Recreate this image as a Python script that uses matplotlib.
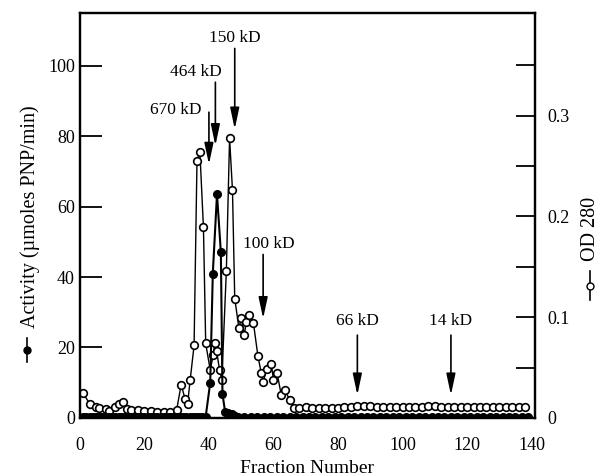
import matplotlib.pyplot as plt
from matplotlib.lines import Line2D

plt.rcParams['font.family'] = ['Liberation Serif', 'DejaVu Serif']

# Activity (filled circles, left axis)
act_frac = list(range(1, 40)) + [40.4, 41.2, 42.5, 43.7, 44.2, 45, 46, 47, 48] + list(range(49, 141, 2))
act_vals = [0.4] * 39 + [10, 41, 63.5, 47, 6.8, 1.8, 1.5, 1.0, 0.6] + [0.4] * len(range(49, 141, 2))

# OD 280 (open circles, right axis)
od_frac = [1, 3, 5, 6, 8, 9, 11, 12, 13.5, 14.5, 16, 18, 20, 22, 24, 26, 28, 30,
           31.4, 32.6, 33.4, 34.2, 35.4, 36.3, 37.2, 38.3, 39, 40.4, 41.3, 41.8,
           42.4, 43.3, 44, 45.4, 46.4, 47.3, 48, 49.3, 50, 51, 51.5, 52.4, 53.8,
           55.2, 56.2, 56.8, 58, 59.3, 60, 61.1, 62.4, 63.5, 65, 66.5,
           68, 70, 72, 74, 76, 78, 80, 82, 84, 86, 88, 90, 92, 94, 96, 98, 100,
           102, 104, 106, 108, 110, 112, 114, 116, 118, 120, 122, 124, 126, 128,
           130, 132, 134, 136, 138]
od_vals = [0.025, 0.014, 0.011, 0.010, 0.009, 0.007, 0.011, 0.014, 0.0155, 0.0086,
           0.008, 0.008, 0.007, 0.007, 0.006, 0.006, 0.006, 0.008,
           0.033, 0.019, 0.014, 0.038, 0.072, 0.255, 0.264, 0.189, 0.074, 0.0475,
           0.062, 0.074, 0.066, 0.0475, 0.038, 0.146, 0.2775, 0.226, 0.1185, 0.089,
           0.099, 0.082, 0.095, 0.102, 0.094, 0.061, 0.045, 0.036, 0.049, 0.054,
           0.038, 0.045, 0.023, 0.028, 0.018, 0.0096,
           0.010, 0.011, 0.010, 0.010, 0.010, 0.010, 0.010, 0.011, 0.011, 0.012,
           0.012, 0.012, 0.011, 0.011, 0.011, 0.011, 0.011, 0.011, 0.011, 0.011,
           0.012, 0.012, 0.011, 0.011, 0.011, 0.011, 0.011, 0.011, 0.011, 0.011,
           0.011, 0.011, 0.011, 0.011, 0.011, 0.011]

# Molecular weight markers: label, fraction, label position, arrow start, arrow tip
markers = [
    ('670 kD', 40, (29.7, 87.3), 86.8, 72),
    ('464 kD', 42, (36, 98.1), 95.3, 77.3),
    ('150 kD', 48, (48, 107.8), 104.9, 82),
    ('100 kD', 56.8, (58.5, 49.5), 46.4, 28.2),
    ('66 kD', 86, (86, 27.5), 23.5, 6.5),
    ('14 kD', 115, (115, 27.5), 23.5, 6.5),
]

fig = plt.figure(figsize=(6.05, 4.76), dpi=100)
ax = fig.add_axes([0.132, 0.122, 0.752, 0.851])
ax2 = ax.twinx()

ax2.plot(od_frac, od_vals, color='black', lw=1, marker='o', ms=5.5,
         mfc='white', mec='black', mew=1.2)
ax.plot(act_frac, act_vals, color='black', lw=1.5, marker='o', ms=5.5,
        mfc='black', mec='black')

ax.set_zorder(ax2.get_zorder() + 1)
ax.patch.set_visible(False)

ax.set_xlim(0.5, 141)
ax.set_ylim(0, 115)
ax2.set_ylim(0, 0.402)

ax.set_xticks(range(0, 141, 20))
ax.set_yticks(range(0, 101, 20))
ax2.set_yticks([0, 0.05, 0.1, 0.15, 0.2, 0.25, 0.3, 0.35])
ax2.set_yticklabels(['0', '', '0.1', '', '0.2', '', '0.3', ''])

ax.tick_params(axis='y', direction='in', length=16, width=1.3, labelsize=13)
ax.tick_params(axis='x', length=0, labelsize=13, pad=14)
ax2.tick_params(axis='y', direction='in', length=14, width=1.3, labelsize=13, pad=9)
for a in (ax, ax2):
    for s in a.spines.values():
        s.set_linewidth(1.6)

ax.set_xlabel('Fraction Number', fontsize=14, labelpad=4)
fig.text(0.05, 0.545, 'Activity (µmoles PNP/min)', fontsize=14.5,
         rotation=90, ha='center', va='center')
fig.text(0.976, 0.52, 'OD 280', fontsize=14.5, rotation=90,
         ha='center', va='center')

for label, x, (tx, ty), y0, y1 in markers:
    ax.text(tx, ty, label, fontsize=12.5, ha='center', va='center')
    ax.annotate('', xy=(x, y1), xytext=(x, y0),
                arrowprops=dict(arrowstyle='-|>,head_width=0.17,head_length=0.8',
                                color='black', lw=1.2, mutation_scale=16,
                                shrinkA=0, shrinkB=0))

# little series keys beside the axis labels
fig.add_artist(Line2D([0.045, 0.045], [0.24, 0.29], color='black', lw=1.2,
                      transform=fig.transFigure))
fig.add_artist(Line2D([0.045], [0.265], color='black', marker='o', ms=5,
                      transform=fig.transFigure))
fig.add_artist(Line2D([0.976, 0.976], [0.37, 0.43], color='black', lw=1.2,
                      transform=fig.transFigure))
fig.add_artist(Line2D([0.976], [0.40], color='black', marker='o', ms=5,
                      mfc='white', transform=fig.transFigure))

fig.savefig('out.png', dpi=100)
